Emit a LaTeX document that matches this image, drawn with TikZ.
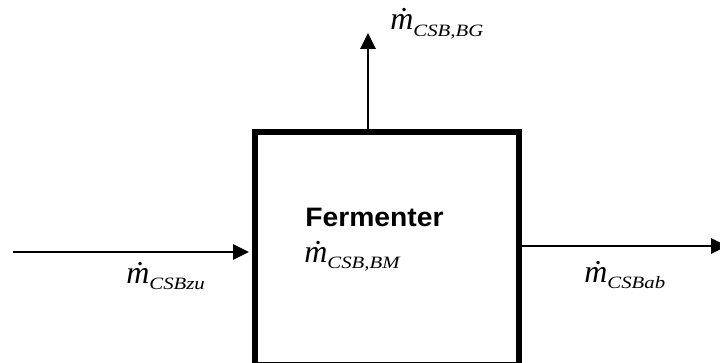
\documentclass[tikz,border=0pt]{standalone}
\usepackage{fontspec}
\setmainfont{Liberation Serif}
\newfontfamily\arialfont{Liberation Sans}
\usetikzlibrary{arrows.meta}
\newcommand{\mflow}[1]{{\fontsize{24pt}{24pt}\selectfont\itshape ṁ}\raisebox{-5pt}{\scalebox{1.2}[1]{\fontsize{13pt}{13pt}\selectfont\itshape #1}}}
\begin{document}
\begin{tikzpicture}[x=0.75pt,y=-0.75pt,
  flow/.style={line width=1.5pt,-{Triangle[length=12pt,width=11.5pt]}},
  lbl/.style={anchor=base west,inner sep=0pt}]
\useasboundingbox (0,0) rectangle (720,363);
\node[draw,line width=4.5pt,inner sep=0pt,minimum width=198pt,minimum height=174.75pt] (box) at (387,248.5) {};
\coordinate (tipT) at (368,33);
\coordinate (tailL) at (13,252);
\coordinate (tipR) at (727,246);
\draw[flow] (box.north -| tipT) -- (tipT);
\draw[flow,shorten >=2.25pt] (tailL) -- (box.west |- tailL);
\draw[flow] (box.east |- tipR) -- (tipR);
\node[lbl] (ferm) at (305,227) {\scalebox{1.06}[1]{\arialfont\bfseries\fontsize{20pt}{20pt}\selectfont Fermenter}};
\node[lbl] (lbm) at (304,262) {\mflow{CSB,BM}};
\node[lbl] (lbg) at (390,30) {\mflow{CSB,BG}};
\node[lbl] (lzu) at (126,283) {\mflow{CSBzu}};
\node[lbl] (lab) at (584,282) {\mflow{CSBab}};
\end{tikzpicture}
\end{document}
